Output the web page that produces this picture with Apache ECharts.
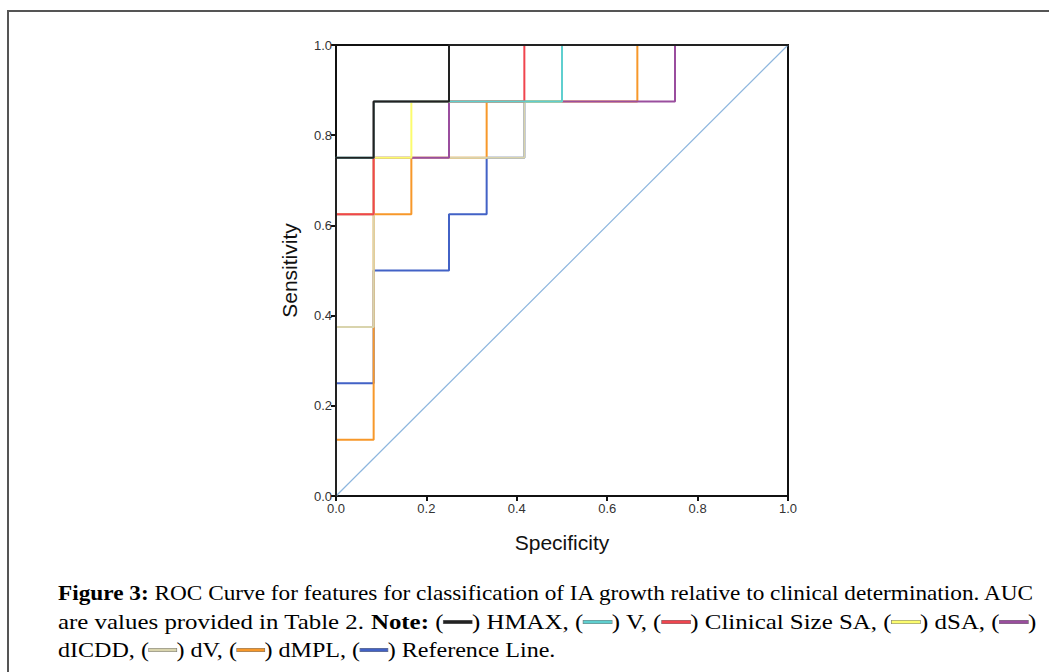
<!DOCTYPE html>
<html><head><meta charset="utf-8">
<script src="https://cdn.jsdelivr.net/npm/echarts@6/dist/echarts.min.js"></script>
<style>html,body{margin:0;padding:0;background:#fff}#c{width:1049px;height:672px}</style>
</head><body><div id="c"></div>
<script>
// ---- data (x = 1 - specificity, y = sensitivity) ----
const diagX = [0, 1];
const diagY = [0, 1];
const refX   = [0, 0, 0.0833, 0.0833, 0.25, 0.25, 0.3333, 0.3333, 0.4167, 0.4167, 0.5, 0.5, 1];
const refY   = [0, 0.25, 0.25, 0.5, 0.5, 0.625, 0.625, 0.75, 0.75, 0.875, 0.875, 1, 1];
const dmplX  = [0, 0, 0.0833, 0.0833, 0.1667, 0.1667, 0.3333, 0.3333, 0.6667, 0.6667, 1];
const dmplY  = [0, 0.125, 0.125, 0.625, 0.625, 0.75, 0.75, 0.875, 0.875, 1, 1];
const dvX    = [0, 0, 0.0833, 0.0833, 0.4167, 0.4167, 0.5, 0.5, 1];
const dvY    = [0, 0.375, 0.375, 0.75, 0.75, 0.875, 0.875, 1, 1];
const dicddX = [0, 0, 0.0833, 0.0833, 0.25, 0.25, 0.75, 0.75, 1];
const dicddY = [0, 0.625, 0.625, 0.75, 0.75, 0.875, 0.875, 1, 1];
const dsaX   = [0, 0, 0.0833, 0.0833, 0.1667, 0.1667, 0.5, 0.5, 1];
const dsaY   = [0, 0.625, 0.625, 0.75, 0.75, 0.875, 0.875, 1, 1];
const csaX   = [0, 0, 0.0833, 0.0833, 0.4167, 0.4167, 1];
const csaY   = [0, 0.625, 0.625, 0.875, 0.875, 1, 1];
const vX     = [0, 0, 0.0833, 0.0833, 0.5, 0.5, 1];
const vY     = [0, 0.75, 0.75, 0.875, 0.875, 1, 1];
const hmaxX  = [0, 0, 0.0833, 0.0833, 0.25, 0.25, 1];
const hmaxY  = [0, 0.75, 0.75, 0.875, 0.875, 1, 1];

const seriesNames  = ['Diagonal', 'Reference Line', 'dMPL', 'dV', 'dICDD', 'dSA', 'Clinical Size SA', 'V', 'HMAX'];
const seriesXs     = [diagX, refX, dmplX, dvX, dicddX, dsaX, csaX, vX, hmaxX];
const seriesYs     = [diagY, refY, dmplY, dvY, dicddY, dsaY, csaY, vY, hmaxY];
const seriesColors = ['#8db6de', '#4262c6', '#f7982a', '#d9d4ad', '#9a4e9e', '#fcfc6e', '#f0454f', '#5fcfcf', '#222222'];

const xTitle = 'Specificity';
const yTitle = 'Sensitivity';

// caption
const captionLines = [
  [['b', 'Figure 3:'], ['n', ' ROC Curve for features for classification of IA growth relative to clinical determination. AUC']],
  [['n', 'are values provided in Table 2. '], ['b', 'Note:'], ['n', ' ('], ['s', 'HMAX'], ['n', ') HMAX, ('], ['s', 'V'], ['n', ') V, ('],
   ['s', 'Clinical Size SA'], ['n', ') Clinical Size SA, ('], ['s', 'dSA'], ['n', ') dSA, ('], ['s', 'dICDD'], ['n', ')']],
  [['n', 'dICDD, ('], ['s', 'dV'], ['n', ') dV, ('], ['s', 'dMPL'], ['n', ') dMPL, ('], ['s', 'Reference Line'], ['n', ') Reference Line.']]
];

// ---- build ----
const chart = echarts.init(document.getElementById('c'), null, {renderer: 'svg'});

const series = seriesNames.map((name, i) => ({
  name: name,
  type: 'line',
  data: seriesXs[i].map((x, k) => [x, seriesYs[i][k]]),
  showSymbol: false,
  silent: true,
  animation: false,
  lineStyle: {color: seriesColors[i], width: i === 0 ? 1.2 : 2},
  z: 2 + i
}));

const FS = 21;
const SERIF = '"Liberation Serif", "DejaVu Serif", serif';
const SW = 24;
const rich = {
  n: {fontFamily: SERIF, fontSize: FS, color: '#222'},
  b: {fontFamily: SERIF, fontSize: FS, color: '#222', fontWeight: 'bold'}
};
seriesNames.forEach((name, i) => {
  rich['s' + i] = {width: SW, height: 3, backgroundColor: seriesColors[i], borderColor: '#777', borderWidth: 0.5, fontSize: 4, verticalAlign: 'middle'};
});
const measCtx = document.createElement('canvas').getContext('2d');
function measure(line) {
  let w = 0;
  line.forEach(([k, t]) => {
    if (k === 's') { w += SW; return; }
    measCtx.font = (k === 'b' ? 'bold ' : '') + FS + 'px ' + SERIF;
    w += measCtx.measureText(t).width;
  });
  return w;
}
function richStr(line) {
  return line.map(([k, t]) => {
    if (k === 's') return '{s' + seriesNames.indexOf(t) + '| }';
    return '{' + k + '|' + t + '}';
  }).join('');
}
const capLeft = 58, capRight = 1036;
const capYs = [593, 622, 650];
const scales = captionLines.map(l => (capRight - capLeft) / measure(l));
const capScale3 = (scales[0] + scales[1]) / 2;
const graphics = [
  {type: 'rect', shape: {x: 8, y: 11, width: 1200, height: 800}, style: {fill: 'none', stroke: '#555', lineWidth: 2}, silent: true}
];
captionLines.forEach((l, i) => {
  graphics.push({
    type: 'text', x: capLeft, y: capYs[i],
    scaleX: i < 2 ? scales[i] : capScale3,
    style: {text: richStr(l), rich: rich, verticalAlign: 'middle', align: 'left', fontFamily: SERIF, fontSize: FS},
    silent: true
  });
});

const axisFont = '"Liberation Sans", Arial, sans-serif';
chart.setOption({
  animation: false,
  backgroundColor: '#fff',
  grid: {left: 336, top: 45, width: 452, height: 451, show: true, borderColor: '#111', borderWidth: 2, backgroundColor: 'transparent'},
  xAxis: {
    type: 'value', min: 0, max: 1, interval: 0.2,
    name: xTitle, nameLocation: 'middle', nameGap: 36,
    nameTextStyle: {fontFamily: axisFont, fontSize: 21, color: '#111'},
    axisLine: {lineStyle: {color: '#111', width: 2}},
    axisTick: {show: true, length: 5, lineStyle: {color: '#111', width: 2}},
    axisLabel: {fontFamily: axisFont, fontSize: 13, color: '#333', margin: 6, formatter: v => v.toFixed(1)},
    splitLine: {show: false}
  },
  yAxis: {
    type: 'value', min: 0, max: 1, interval: 0.2,
    name: yTitle, nameLocation: 'middle', nameGap: 36,
    nameTextStyle: {fontFamily: axisFont, fontSize: 21, color: '#111'},
    axisLine: {show: true, lineStyle: {color: '#111', width: 2}},
    axisTick: {show: true, length: 5, lineStyle: {color: '#111', width: 2}},
    axisLabel: {fontFamily: axisFont, fontSize: 13, color: '#333', margin: 4, formatter: v => v.toFixed(1)},
    splitLine: {show: false}
  },
  series: series,
  graphic: graphics
});
</script></body></html>
